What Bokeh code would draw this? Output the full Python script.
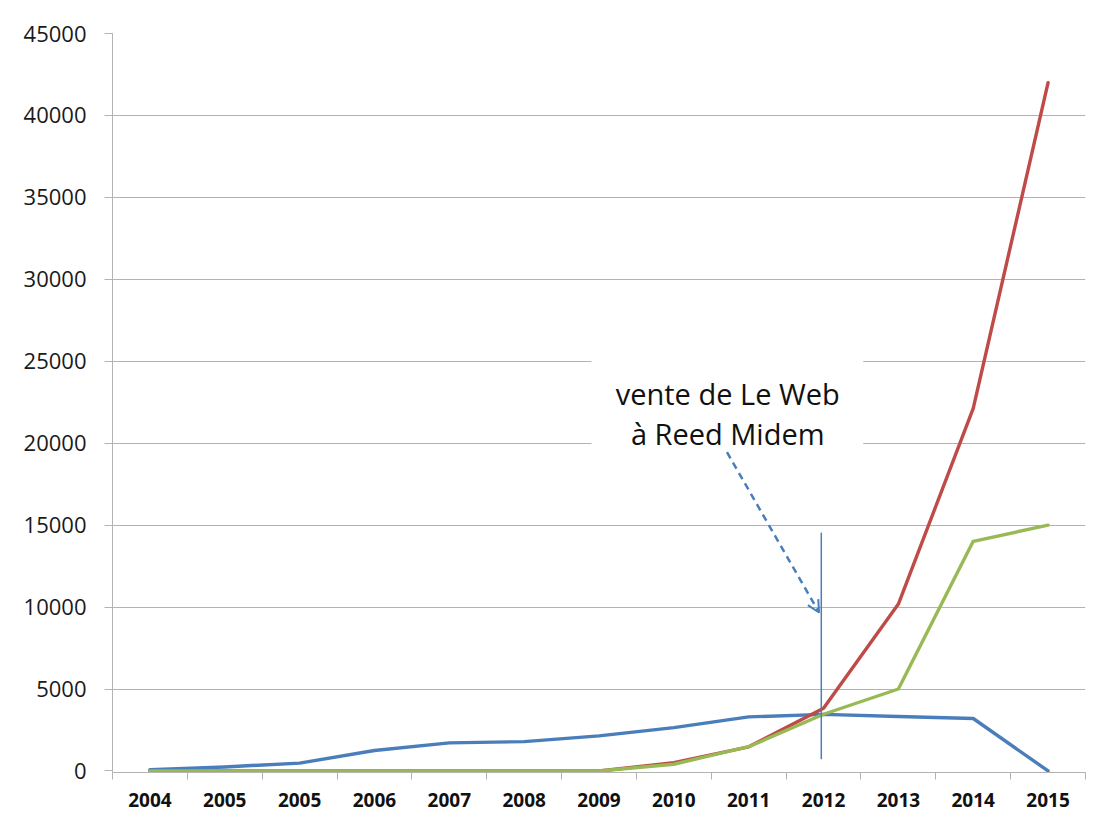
from bokeh.plotting import figure
from bokeh.models import Range1d, FixedTicker, Arrow, OpenHead, ColumnDataSource
from bokeh.core.properties import value
from bokeh.embed import file_html
from bokeh.resources import INLINE

# ---- data ----
years = ["2004", "2005", "2005", "2006", "2007", "2008", "2009",
         "2010", "2011", "2012", "2013", "2014", "2015"]
series_blue = [80, 245, 480, 1250, 1710, 1790, 2140, 2640, 3300, 3450, 3320, 3200, 0]
series_red = [0, 0, 0, 0, 0, 0, 0, 500, 1470, 3830, 10180, 22120, 42000]
series_green = [0, 0, 0, 0, 0, 0, 0, 410, 1480, 3460, 5000, 14010, 15000]
y_ticks = [0, 5000, 10000, 15000, 20000, 25000, 30000, 35000, 40000, 45000]

annotation_lines = ["vente de Le Web", "à Reed Midem"]
event_index = 9            # 2012
event_offset = -0.03
event_line_y = [715, 14540]
arrow_start = (7.71, 19450)
arrow_end = (8.94, 9670)
text_box = (5.9, 9.53, 19670, 25360)   # left, right, bottom, top
text_center_x = 7.72
text_baselines = [23020, 20570]

BLUE = "#4A7EBB"
RED = "#BE4B48"
GREEN = "#98B954"
GRID = "#B3B3B3"
FONT = "Open Sans"

xs = list(range(len(years)))

p = figure(width=1090, height=818, output_backend="svg", toolbar_location=None,
           x_range=Range1d(-0.5, len(years) - 0.5), y_range=Range1d(-95, 45000),
           min_border_left=112, min_border_top=33, min_border_right=5,
           min_border_bottom=46)
p.outline_line_color = None
p.background_fill_color = "white"
p.border_fill_color = "white"

# grid
p.xgrid.grid_line_color = None
p.ygrid.grid_line_color = GRID
p.ygrid.grid_line_width = 1
p.ygrid.ticker = FixedTicker(ticks=y_ticks[1:])

# y axis
p.yaxis.ticker = FixedTicker(ticks=y_ticks)
p.yaxis.axis_line_color = GRID
p.yaxis.major_tick_line_color = GRID
p.yaxis.major_tick_out = 8
p.yaxis.major_tick_in = 0
p.yaxis.minor_tick_line_color = None
p.yaxis.major_label_text_font = FONT
p.yaxis.major_label_text_font_size = "22px"
p.yaxis.major_label_text_color = "#1a1a1a"
p.yaxis.major_label_standoff = 18

# x axis
p.xaxis.ticker = FixedTicker(ticks=xs, minor_ticks=[i - 0.5 for i in range(len(years) + 1)])
p.xaxis.major_label_overrides = {i: years[i] for i in xs}
p.xaxis.axis_line_color = GRID
p.xaxis.major_tick_line_color = None
p.xaxis.major_tick_out = 0
p.xaxis.major_tick_in = 0
p.xaxis.minor_tick_line_color = GRID
p.xaxis.minor_tick_out = 7
p.xaxis.minor_tick_in = 0
p.xaxis.major_label_text_font = FONT
p.xaxis.major_label_text_font_style = "bold"
p.xaxis.major_label_text_font_size = "19px"
p.xaxis.major_label_text_color = "#111111"
p.xaxis.major_label_standoff = 13

# series
for ys, col in [(series_blue, BLUE), (series_red, RED), (series_green, GREEN)]:
    p.line(xs, ys, line_color=col, line_width=3.4, line_join="round", line_cap="round")

# event vertical line
ex = event_index + event_offset
p.line([ex, ex], event_line_y, line_color=BLUE, line_width=1.5)

# text box (white background)
l, r, b, t = text_box
p.quad(left=[l], right=[r], bottom=[b], top=[t], fill_color="white", line_color=None)

src = ColumnDataSource(dict(x=[text_center_x] * len(annotation_lines), y=text_baselines,
                            text=annotation_lines))
p.text(x="x", y="y", text="text", source=src, text_align="center",
       text_baseline="alphabetic", text_font=value(FONT), text_font_size="29px",
       text_color="#111111")

# dashed arrow
p.add_layout(Arrow(x_start=arrow_start[0], y_start=arrow_start[1],
                   x_end=arrow_end[0], y_end=arrow_end[1],
                   line_color=BLUE, line_width=2.5, line_dash="7 5",
                   end=OpenHead(size=12, line_color=BLUE, line_width=2)))

open("out.html", "w").write(file_html(p, INLINE))
